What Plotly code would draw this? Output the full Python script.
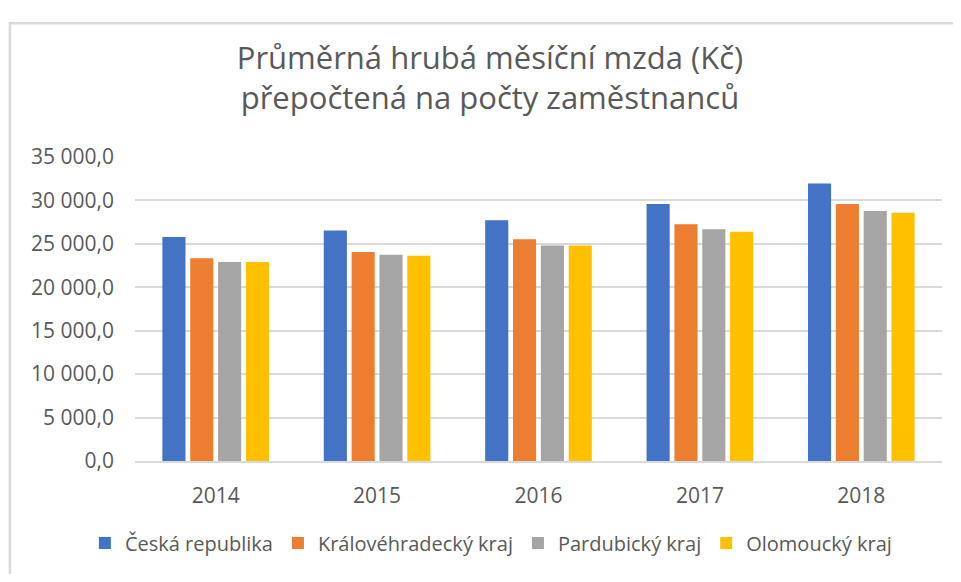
import plotly.graph_objects as go

years = ['2014', '2015', '2016', '2017', '2018']
ceska_republika = [25790, 26540, 27710, 29600, 31940]
kralovehradecky = [23330, 24050, 25520, 27260, 29600]
pardubicky = [22910, 23750, 24800, 26690, 28770]
olomoucky = [22910, 23630, 24800, 26390, 28580]

series = [
    ('Česká republika', ceska_republika, '#4472C4'),
    ('Královéhradecký kraj', kralovehradecky, '#ED7D31'),
    ('Pardubický kraj', pardubicky, '#A5A5A5'),
    ('Olomoucký kraj', olomoucky, '#FFC000'),
]

fig = go.Figure()
for name, vals, color in series:
    fig.add_trace(go.Bar(x=years, y=vals, name=name, marker_color=color,
                         marker_line_width=0))

font = 'Open Sans'
grey = '#595959'

# page body has an 8px margin, so the figure is 16px smaller than the window
fig.update_layout(
    width=945, height=566,
    margin=dict(l=127, r=11, t=149, b=97),
    paper_bgcolor='white', plot_bgcolor='white',
    separators=', ',
    barmode='group', bargap=0.31, bargroupgap=0.17,
    font=dict(family=font, color=grey, size=20),
    title=dict(text='Průměrná hrubá měsíční mzda (Kč)<br>přepočtená na počty zaměstnanců',
               x=0.51, xanchor='center', y=1 - 61 / 566, yanchor='middle',
               font=dict(size=31, color=grey, family=font)),
    legend=dict(orientation='h', x=0.441, xanchor='center', y=-0.27, yanchor='middle',
                font=dict(size=20, color=grey), itemwidth=30, traceorder='normal'),
)
fig.update_yaxes(range=[0, 35000], dtick=5000, tickformat=',.1f',
                 gridcolor='#D9D9D9', gridwidth=1.5, zeroline=False,
                 showline=False, ticks='', ticklabelstandoff=20,
                 tickfont=dict(size=21, color=grey))
fig.update_xaxes(showline=True, linecolor='#D9D9D9', linewidth=1.5, ticks='',
                 ticklabelstandoff=15, tickfont=dict(size=21, color=grey))

# chart border
fig.add_shape(type='rect', xref='paper', yref='paper',
              x0=-0.155, x1=1.06, y0=-0.6, y1=1.44,
              line=dict(color='#D9D9D9', width=2.5), fillcolor='rgba(0,0,0,0)')

fig.write_html('out.html')
